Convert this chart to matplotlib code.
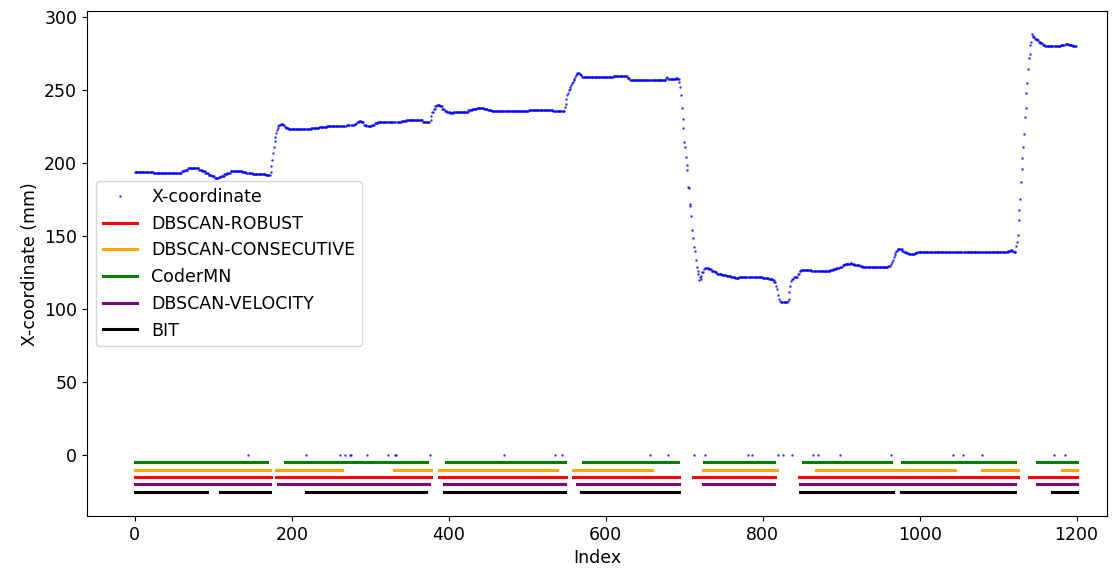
import matplotlib

matplotlib.use("Agg")

import matplotlib.pyplot as plt
import numpy as np


N_POINTS = 1200

# X-coordinate: value held from each start index to the next
X_START = [
    0, 24, 60, 64, 68, 72, 79, 82, 86, 90, 94, 98, 102, 107, 110, 114, 118,
    122, 126, 132, 137, 142, 150, 162, 167, 171, 173, 174, 175, 176, 177, 178,
    179, 180, 181, 182, 183, 184, 186, 189, 191, 193, 196, 215, 225, 235, 245,
    270, 280, 283, 286, 289, 292, 295, 302, 306, 310, 340, 346, 367, 375, 377,
    378, 379, 381, 383, 385, 389, 392, 395, 398, 402, 406, 425, 430, 436, 445,
    450, 455, 502, 533, 547, 548, 549, 550, 551, 552, 553, 554, 555, 556, 557,
    558, 559, 560, 561, 562, 563, 564, 567, 568, 570, 572, 610, 628, 631, 677,
    678, 679, 690, 692, 694, 695, 696, 697, 698, 699, 700, 701, 702, 703, 704,
    705, 706, 707, 708, 709, 710, 711, 712, 713, 714, 715, 716, 717, 718, 719,
    720, 721, 722, 723, 725, 727, 731, 735, 739, 742, 748, 754, 760, 765, 770,
    775, 790, 800, 808, 813, 815, 817, 818, 819, 821, 822, 823, 832, 833, 834,
    835, 836, 838, 840, 845, 847, 849, 855, 862, 886, 890, 894, 898, 902, 905,
    909, 912, 914, 917, 921, 924, 927, 932, 945, 960, 964, 965, 966, 967, 968,
    969, 970, 972, 974, 976, 978, 980, 983, 986, 991, 994, 997, 1110, 1113,
    1116, 1118, 1120, 1123, 1124, 1125, 1126, 1127, 1128, 1129, 1130, 1131,
    1132, 1133, 1134, 1135, 1136, 1137, 1138, 1139, 1140, 1141, 1142, 1143,
    1144, 1145, 1147, 1150, 1152, 1154, 1157, 1160, 1170, 1180, 1185, 1190,
    1195,
]
X_VALUE = [
    194, 193.5, 194.5, 195.5, 196.5, 197, 196.5, 195.5, 194.5, 193.5, 192,
    191, 190, 190.5, 191.5, 192.5, 193.5, 194.5, 195, 194.5, 194, 193.5, 193,
    192.5, 192, 191.8, 194, 198, 202, 207, 211, 215, 218, 220.5, 222.5, 224,
    225.5, 226.5, 227, 226, 225, 224, 223.3, 223.8, 224.5, 225, 225.5, 226,
    227, 228, 229, 228, 226.5, 225.8, 226.5, 227.5, 228.3, 228.8, 229.5, 228.5,
    228.3, 230, 232.5, 235, 237.5, 239, 239.7, 239, 237.5, 236, 235, 234.5,
    235.5, 236.3, 237.3, 238, 237, 236.3, 235.6, 236.8, 235.6, 236, 238.6, 241,
    244, 246.6, 248.5, 250, 251, 252, 253.5, 255, 256, 257, 258, 259.5, 260.5,
    261.4, 262, 261.5, 260.5, 259.5, 259, 259.6, 258.5, 257.3, 258.2, 259,
    257.5, 258.4, 257.5, 256, 252, 247, 238, 230.6, 224, 214.6, 211, 204,
    198.6, 195.2, 184, 183.3, 171.9, 170.8, 163.9, 154, 149, 145, 142.7, 139.9,
    133.6, 129, 126.2, 124.4, 119.9, 122, 121, 123, 125.5, 127.5, 128.5, 127.5,
    126.5, 125.3, 124.4, 123.5, 122.6, 122, 121.2, 122, 122.3, 122, 121.7, 121,
    120, 118.7, 116, 114.2, 110, 107.3, 106, 105, 106, 107.3, 111.9, 116,
    119.5, 121, 122, 124, 126, 127.2, 126.7, 126.3, 126.8, 127.5, 128.3, 129,
    130, 130.8, 131.3, 131.7, 131, 130.4, 130, 129.5, 128.9, 129, 129.3, 129.5,
    131, 132.4, 134, 135.8, 137, 138.6, 140, 141, 141.6, 141, 140, 139.3,
    138.6, 137.9, 138.2, 138.6, 139, 139.5, 140.2, 140.6, 140, 139.3, 143.2,
    146.1, 150.7, 161, 168.3, 175.8, 187.2, 196.4, 203.9, 211.2, 220.3, 231.7,
    238.1, 248.4, 255, 264.8, 272.4, 275.1, 280.8, 283.1, 288.4, 287.5, 286.5,
    285.5, 284.2, 283.3, 282.4, 281.2, 280.3, 280.6, 281, 281.5, 281, 280.2,
]

# indices where the coordinate drops to 0 (missing detections)
ZERO_INDEX = [
    144, 218, 262, 268, 274, 276, 296, 322, 331, 333, 376, 470, 536, 544,
    657, 680, 712, 726, 781, 787, 820, 826, 837, 864, 870, 899, 963, 1043,
    1055, 1080, 1171, 1185,
]

# detected intervals (start index, end index) per method
ROBUST_SEGMENTS = [
    (0, 174), (180, 377), (387, 550), (558, 694), (711, 816), (846, 1125),
    (1139, 1200),
]
CONSECUTIVE_SEGMENTS = [
    (0, 172), (180, 264), (330, 377), (387, 538), (558, 659), (724, 782),
    (787, 818), (868, 964), (967, 1045), (1080, 1125), (1182, 1200),
]
CODERMN_SEGMENTS = [
    (0, 169), (191, 372), (397, 548), (571, 692), (725, 814), (851, 964),
    (978, 1122), (1149, 1200),
]
VELOCITY_SEGMENTS = [
    (0, 172), (182, 375), (394, 548), (563, 694), (724, 814), (848, 966),
    (969, 1122), (1149, 1200),
]
BIT_SEGMENTS = [
    (0, 92), (108, 172), (218, 371), (394, 548), (569, 694), (848, 896),
    (898, 966), (976, 1122), (1169, 1200),
]

METHODS = [
    ("DBSCAN-ROBUST", ROBUST_SEGMENTS, -15, "red"),
    ("DBSCAN-CONSECUTIVE", CONSECUTIVE_SEGMENTS, -10, "orange"),
    ("CoderMN", CODERMN_SEGMENTS, -5, "green"),
    ("DBSCAN-VELOCITY", VELOCITY_SEGMENTS, -20, "purple"),
    ("BIT", BIT_SEGMENTS, -25, "black"),
]


def build_x_series():
    counts = np.diff(X_START + [N_POINTS])
    x_values = np.repeat(np.array(X_VALUE, dtype=float), counts)
    x_values[ZERO_INDEX] = 0
    return x_values


def plot_detections(x_values):
    plt.rcParams["font.size"] = 12.5

    fig = plt.figure(figsize=(11.15, 5.71), dpi=100)
    ax = fig.add_axes([0.078, 0.096, 0.915, 0.884])

    ax.plot(
        np.arange(len(x_values)),
        x_values,
        linestyle="none",
        marker=".",
        markersize=1.8,
        color="blue",
        alpha=0.6,
        label="X-coordinate",
    )

    for name, segments, level, color in METHODS:
        for i, (start, end) in enumerate(segments):
            ax.plot(
                [start, end],
                [level, level],
                color=color,
                linewidth=2.2,
                label=name if i == 0 else None,
            )

    ax.set_xlim(-61, 1239)
    ax.set_ylim(-41.8, 304.1)
    ax.set_xlabel("Index")
    ax.set_ylabel("X-coordinate (mm)")
    ax.legend(loc="center left")

    fig.savefig("out.png", dpi=100)
    plt.close(fig)


def main():
    x_values = build_x_series()
    plot_detections(x_values)


if __name__ == "__main__":
    main()
